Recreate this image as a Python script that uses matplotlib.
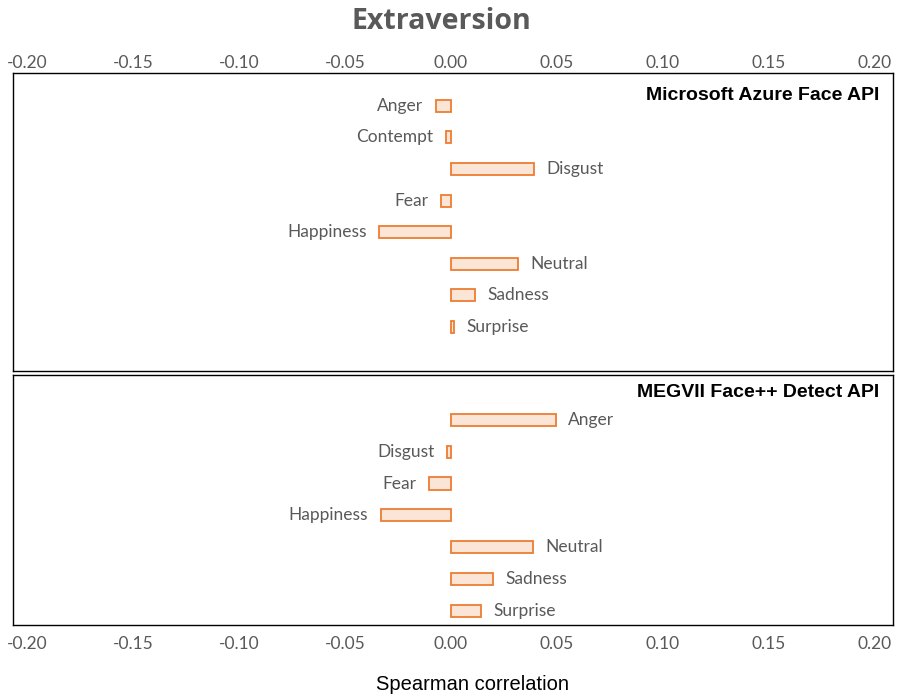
import matplotlib.pyplot as plt

# values
azure_emotions = ['Anger', 'Contempt', 'Disgust', 'Fear', 'Happiness', 'Neutral', 'Sadness', 'Surprise']
azure_rho = [-0.0071, -0.0024, 0.0390, -0.0047, -0.0340, 0.0316, 0.0115, 0.0013]

megvii_emotions = ['Anger', 'Disgust', 'Fear', 'Happiness', 'Neutral', 'Sadness', 'Surprise']
megvii_rho = [0.0494, -0.0020, -0.0106, -0.0332, 0.0387, 0.0200, 0.0142]

xticks = [-0.20, -0.15, -0.10, -0.05, 0.00, 0.05, 0.10, 0.15, 0.20]

GRAY = '#595959'
FILL = '#fbe5d6'
EDGE = '#ed7d31'

fig = plt.figure(figsize=(9.02, 6.99), dpi=100)
ax1 = fig.add_axes([0.0144, 0.4692, 0.9756, 0.4263])
ax2 = fig.add_axes([0.0144, 0.1059, 0.9756, 0.3577])


def draw_panel(ax, names, vals, title, ylim, title_y):
    ypos = list(range(len(names)))
    ax.barh(ypos, vals, height=0.38, color=FILL, edgecolor=EDGE, linewidth=1.3)
    for y, v, name in zip(ypos, vals, names):
        if v < 0:
            ax.annotate(name, (v, y), xytext=(-9, 0), textcoords='offset points',
                        ha='right', va='center', fontsize=12.5, color=GRAY, family='Lato')
        else:
            ax.annotate(name, (v, y), xytext=(9, 0), textcoords='offset points',
                        ha='left', va='center', fontsize=12.5, color=GRAY, family='Lato')
    ax.set_xlim(-0.2068, 0.2087)
    ax.set_ylim(ylim)
    ax.set_yticks([])
    ax.set_xticks(xticks)
    ax.set_xticklabels(['%.2f' % t for t in xticks], family='Lato', fontsize=12.5, color=GRAY)
    for s in ax.spines.values():
        s.set_color('black')
        s.set_linewidth(1.0)
    ax.text(0.9845, title_y, title, transform=ax.transAxes, ha='right', va='center',
            fontsize=14, fontweight='bold', family='Liberation Sans', color='black')


draw_panel(ax1, azure_emotions, azure_rho, 'Microsoft Azure Face API', (8.40, -1.036), 0.926)
draw_panel(ax2, megvii_emotions, megvii_rho, 'MEGVII Face++ Detect API', (6.45, -1.416), 0.928)

ax1.tick_params(axis='x', top=True, labeltop=True, bottom=False, labelbottom=False, length=0, pad=1.5)
ax2.tick_params(axis='x', length=0, pad=8)

fig.text(0.489, 0.969, 'Extraversion', ha='center', va='center', fontsize=20.5,
         fontweight='bold', family='Open Sans', color=GRAY)
fig.text(0.524, 0.021, 'Spearman correlation', ha='center', va='center', fontsize=14.5,
         family='Liberation Sans', color='black')

fig.savefig('out.png', dpi=100)
